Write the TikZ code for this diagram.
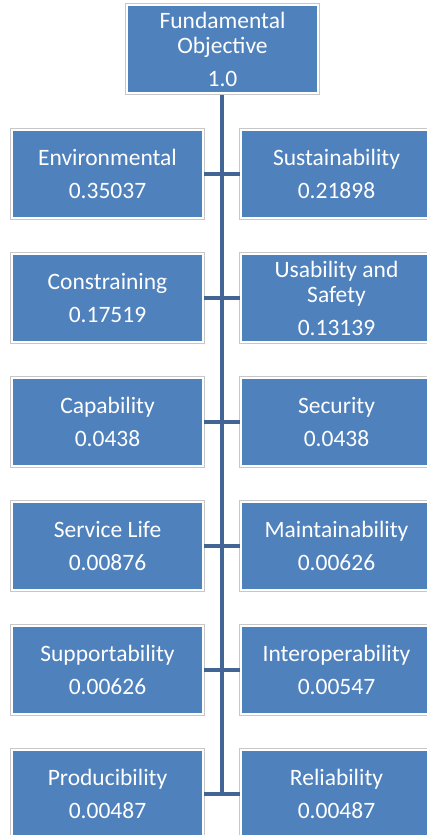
\documentclass[tikz,border=0pt]{standalone}
\usepackage{fontspec}
\setmainfont{Carlito}
\usepackage{xcolor}
\usetikzlibrary{positioning,calc}

\definecolor{boxblue}{HTML}{4F81BD}
\definecolor{linkblue}{RGB}{66,101,150}

\tikzset{
  objbox/.style={rectangle, fill=boxblue, draw=white, line width=1pt,
    preaction={draw=black!22, line width=2.3pt},
    text=white, align=center, inner sep=0pt,
    minimum width=95.5pt, minimum height=44pt,
    font=\fontsize{11.75}{12.5}\selectfont},
  link/.style={draw=linkblue, line width=1.6pt}
}

\begin{document}
\begin{tikzpicture}[x=0.5pt,y=-0.5pt]
  \useasboundingbox (0,0) rectangle (427,835);
  \clip (0,0) rectangle (427,835);

  % links first, the boxes sit on top of them
  \coordinate (trunktop) at (222,93);
  \coordinate (trunkend) at (222,794);
  \path[link] (trunktop) -- (trunkend);

  \node (top) [objbox] at (222.5,49) {Fundamental\\Objective\\[4pt]1.0};

  \node (l1) [objbox] at (107.5,174) {Environmental\\[4pt]0.35037};
  \node (r1) [objbox] at (336.5,174) {Sustainability\\[4pt]0.21898};

  \node (l2) [objbox] at (107.5,298) {Constraining\\[4pt]0.17519};
  \node (r2) [objbox] at (336.5,298) {Usability and\\Safety\\[4pt]0.13139};

  \node (l3) [objbox] at (107.5,422) {Capability\\[4pt]0.0438};
  \node (r3) [objbox] at (336.5,422) {Security\\[4pt]0.0438};

  \node (l4) [objbox] at (107.5,546) {Service Life\\[4pt]0.00876};
  \node (r4) [objbox] at (336.5,546) {Maintainability\\[4pt]0.00626};

  \node (l5) [objbox] at (107.5,670) {Supportability\\[4pt]0.00626};
  \node (r5) [objbox] at (336.5,670) {Interoperability\\[4pt]0.00547};

  \node (l6) [objbox] at (107.5,794) {Producibility\\[4pt]0.00487};
  \node (r6) [objbox] at (336.5,794) {Reliability\\[4pt]0.00487};

  % side branches, drawn between the boxes
  \foreach \i in {1,...,6}
    \path[link] (l\i.east) -- (r\i.west);
\end{tikzpicture}
\end{document}
